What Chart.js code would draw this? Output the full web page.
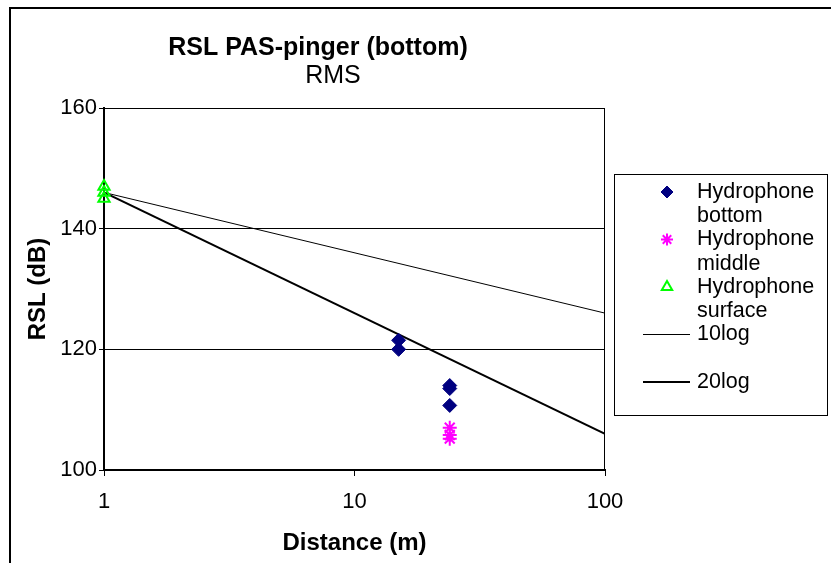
<!DOCTYPE html>
<html>
<head>
<meta charset="utf-8">
<title>RSL PAS-pinger (bottom)</title>
<script src="https://cdn.jsdelivr.net/npm/chart.js@4.4.0/dist/chart.umd.min.js"></script>
<style>
    html, body { margin: 0; padding: 0; background: #fff; overflow: hidden; }
    #wrap { position: relative; width: 831px; height: 563px; }
    #frame {
        position: absolute; left: 9px; top: 7px; right: -10px; bottom: -10px;
        border-left: 2px solid #000; border-top: 2px solid #000;
    }
    #rslCanvas { position: absolute; left: 0; top: 0; }
</style>
</head>
<body>
<div id="wrap">
    <div id="frame"></div>
    <canvas id="rslCanvas" width="831" height="563"></canvas>
</div>
<script>
// measured levels, distance in metres, RSL in dB
const bottomDist = [15, 15, 24, 24, 24];
const bottomRsl = [121.5, 120, 114, 113.5, 110.7];
const middleDist = [24, 24, 24];
const middleRsl = [107, 105.8, 105.2];
const surfaceDist = [1, 1, 1];
const surfaceRsl = [147, 146, 145];

// spreading loss reference lines
const refDist = [1, 100];
const log10Rsl = [146, 126];
const log20Rsl = [146, 106];

const xTicks = [1, 10, 100];
const seriesNames = [['Hydrophone', 'bottom'], ['Hydrophone', 'middle'], ['Hydrophone', 'surface'], ['10log'], ['20log']];
const titleText = 'RSL PAS-pinger (bottom)';
const subtitleText = 'RMS';

const FONT = 'Liberation Sans, Arial, sans-serif';

function toPoints(xs, ys) {
    return xs.map((x, i) => ({ x, y: ys[i] }));
}

// two line heading, placed like the spreadsheet one
const heading = {
    id: 'heading',
    afterDraw(chart) {
        const ctx = chart.ctx;
        ctx.save();
        ctx.fillStyle = '#000';
        ctx.textAlign = 'center';
        ctx.textBaseline = 'alphabetic';
        ctx.font = 'bold 25px ' + FONT;
        ctx.fillText(titleText, 318, 55);
        ctx.font = '25px ' + FONT;
        ctx.fillText(subtitleText, 333, 83);
        ctx.restore();
    }
};

// plot frame (top + right edges)
const frameBox = {
    id: 'frameBox',
    afterDatasetsDraw(chart) {
        const { ctx, chartArea: a } = chart;
        ctx.save();
        ctx.strokeStyle = '#000';
        ctx.lineWidth = 1;
        ctx.beginPath();
        ctx.moveTo(a.left, a.top + 0.5);
        ctx.lineTo(a.right - 0.5, a.top + 0.5);
        ctx.lineTo(a.right - 0.5, a.bottom);
        ctx.stroke();
        ctx.restore();
    }
};

// boxed legend on the right, with wrapped labels
const sideLegend = {
    id: 'sideLegend',
    afterDraw(chart) {
        const ctx = chart.ctx;
        const box = { x: 614, y: 174, w: 213, h: 241 };
        const markX = 667, textX = 697, lineH = 24.5, startY = 192, step = 47.5;
        ctx.save();
        ctx.strokeStyle = '#000';
        ctx.lineWidth = 1;
        ctx.strokeRect(box.x + 0.5, box.y + 0.5, box.w, box.h);
        ctx.font = '21.5px ' + FONT;
        ctx.textBaseline = 'middle';
        ctx.fillStyle = '#000';
        chart.data.datasets.forEach((ds, i) => {
            const y = startY + i * step;
            ctx.save();
            if (ds.showLine) {
                ctx.strokeStyle = ds.borderColor;
                ctx.lineWidth = ds.borderWidth;
                ctx.beginPath();
                ctx.moveTo(643, y);
                ctx.lineTo(690, y);
                ctx.stroke();
            } else {
                ctx.strokeStyle = ds.pointBorderColor;
                ctx.fillStyle = ds.pointBackgroundColor;
                ctx.lineWidth = ds.pointBorderWidth;
                Chart.helpers.drawPoint(ctx, {
                    pointStyle: ds.pointStyle,
                    radius: 6,
                    borderWidth: ds.pointBorderWidth,
                    rotation: 0
                }, markX, y);
            }
            ctx.restore();
            seriesNames[i].forEach((t, j) => ctx.fillText(t, textX, y + j * lineH));
        });
        ctx.restore();
    }
};

const rslChart = new Chart(document.getElementById('rslCanvas'), {
    type: 'scatter',
    data: {
        datasets: [{
            label: 'Hydrophone bottom',
            data: toPoints(bottomDist, bottomRsl),
            pointStyle: 'rectRot',
            pointRadius: 7,
            pointBorderWidth: 1,
            pointBackgroundColor: '#000080',
            pointBorderColor: '#000080',
            clip: false
        }, {
            label: 'Hydrophone middle',
            data: toPoints(middleDist, middleRsl),
            pointStyle: 'star',
            pointRadius: 7,
            pointBorderWidth: 2,
            pointBackgroundColor: '#FF00FF',
            pointBorderColor: '#FF00FF',
            clip: false
        }, {
            label: 'Hydrophone surface',
            data: toPoints(surfaceDist, surfaceRsl),
            pointStyle: 'triangle',
            pointRadius: 6.5,
            pointBorderWidth: 2,
            pointBackgroundColor: 'rgba(0,0,0,0)',
            pointBorderColor: '#00FF00',
            clip: false
        }, {
            label: '10log',
            data: toPoints(refDist, log10Rsl),
            showLine: true,
            borderColor: '#000',
            borderWidth: 1,
            pointRadius: 0
        }, {
            label: '20log',
            data: toPoints(refDist, log20Rsl),
            showLine: true,
            borderColor: '#000',
            borderWidth: 2,
            pointRadius: 0
        }]
    },
    options: {
        responsive: false,
        animation: false,
        layout: {
            padding: { left: 12, right: 226, top: 108, bottom: 8 }
        },
        plugins: {
            legend: { display: false },
            tooltip: { enabled: false },
            title: { display: false }
        },
        scales: {
            x: {
                type: 'logarithmic',
                min: 1,
                max: 100,
                afterBuildTicks: (scale) => {
                    scale.ticks = xTicks.map(v => ({ value: v }));
                },
                ticks: {
                    color: '#000',
                    font: { family: FONT, size: 22 },
                    maxRotation: 0,
                    padding: 13,
                    callback: (v) => String(v)
                },
                grid: {
                    drawOnChartArea: false,
                    color: '#000',
                    tickLength: 6
                },
                border: { color: '#000', width: 2 },
                title: {
                    display: true,
                    text: 'Distance (m)',
                    color: '#000',
                    font: { family: FONT, size: 24, weight: 'bold', lineHeight: 1 },
                    padding: { top: 2.6, bottom: 0 }
                }
            },
            y: {
                min: 100,
                max: 160,
                ticks: {
                    stepSize: 20,
                    color: '#000',
                    font: { family: FONT, size: 22 },
                    padding: 2
                },
                grid: {
                    color: '#000',
                    lineWidth: 1,
                    tickLength: 5
                },
                border: { color: '#000', width: 2 },
                title: {
                    display: true,
                    text: 'RSL (dB)',
                    color: '#000',
                    font: { family: FONT, size: 24, weight: 'bold', lineHeight: 1 },
                    padding: { top: 14, bottom: 8.3 }
                }
            }
        }
    },
    plugins: [frameBox, sideLegend, heading]
});
</script>
</body>
</html>
